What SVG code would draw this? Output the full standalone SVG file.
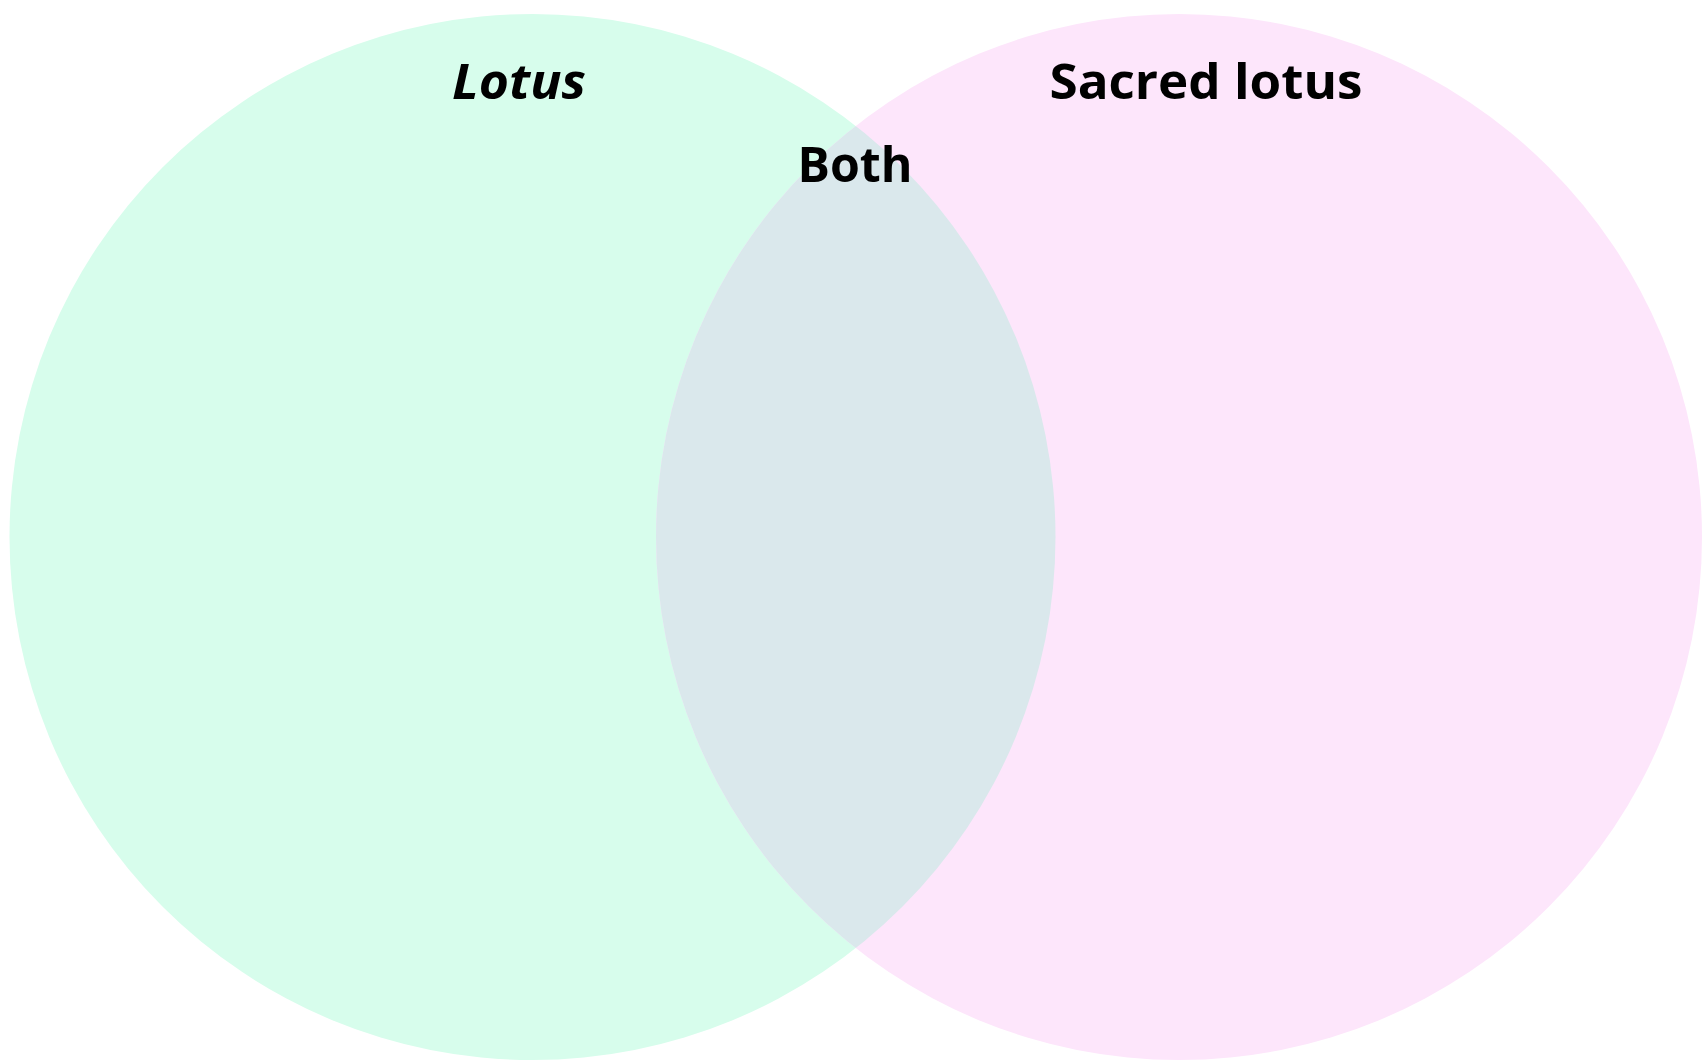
<svg xmlns="http://www.w3.org/2000/svg" width="1705" height="1064" viewBox="0 0 1705 1064">
<style>
.lbl{font-family:"Open Sans","Noto Sans","Liberation Sans",sans-serif;font-weight:bold;font-size:48px;fill:#000;text-anchor:middle}
</style>
<defs>
<clipPath id="clipL"><circle cx="532.5" cy="537" r="523"/></clipPath>
</defs>
<rect width="1705" height="1064" fill="#ffffff"/>
<g id="set-lotus">
<circle cx="532.5" cy="537" r="523" fill="#d7fdec"/>
</g>
<g id="set-sacred">
<circle cx="1179" cy="537" r="523" fill="#fde6fb"/>
</g>
<g id="set-both">
<circle cx="1179" cy="537" r="523" fill="#dae8ec" clip-path="url(#clipL)"/>
</g>
<g id="labels">
<text class="lbl" x="519" y="99" font-style="italic" textLength="134" lengthAdjust="spacingAndGlyphs">Lotus</text>
<text class="lbl" x="1206" y="99" textLength="313" lengthAdjust="spacingAndGlyphs">Sacred lotus</text>
<text class="lbl" x="855" y="182" textLength="115" lengthAdjust="spacingAndGlyphs">Both</text>
</g>
<g id="connectors"></g>
</svg>
